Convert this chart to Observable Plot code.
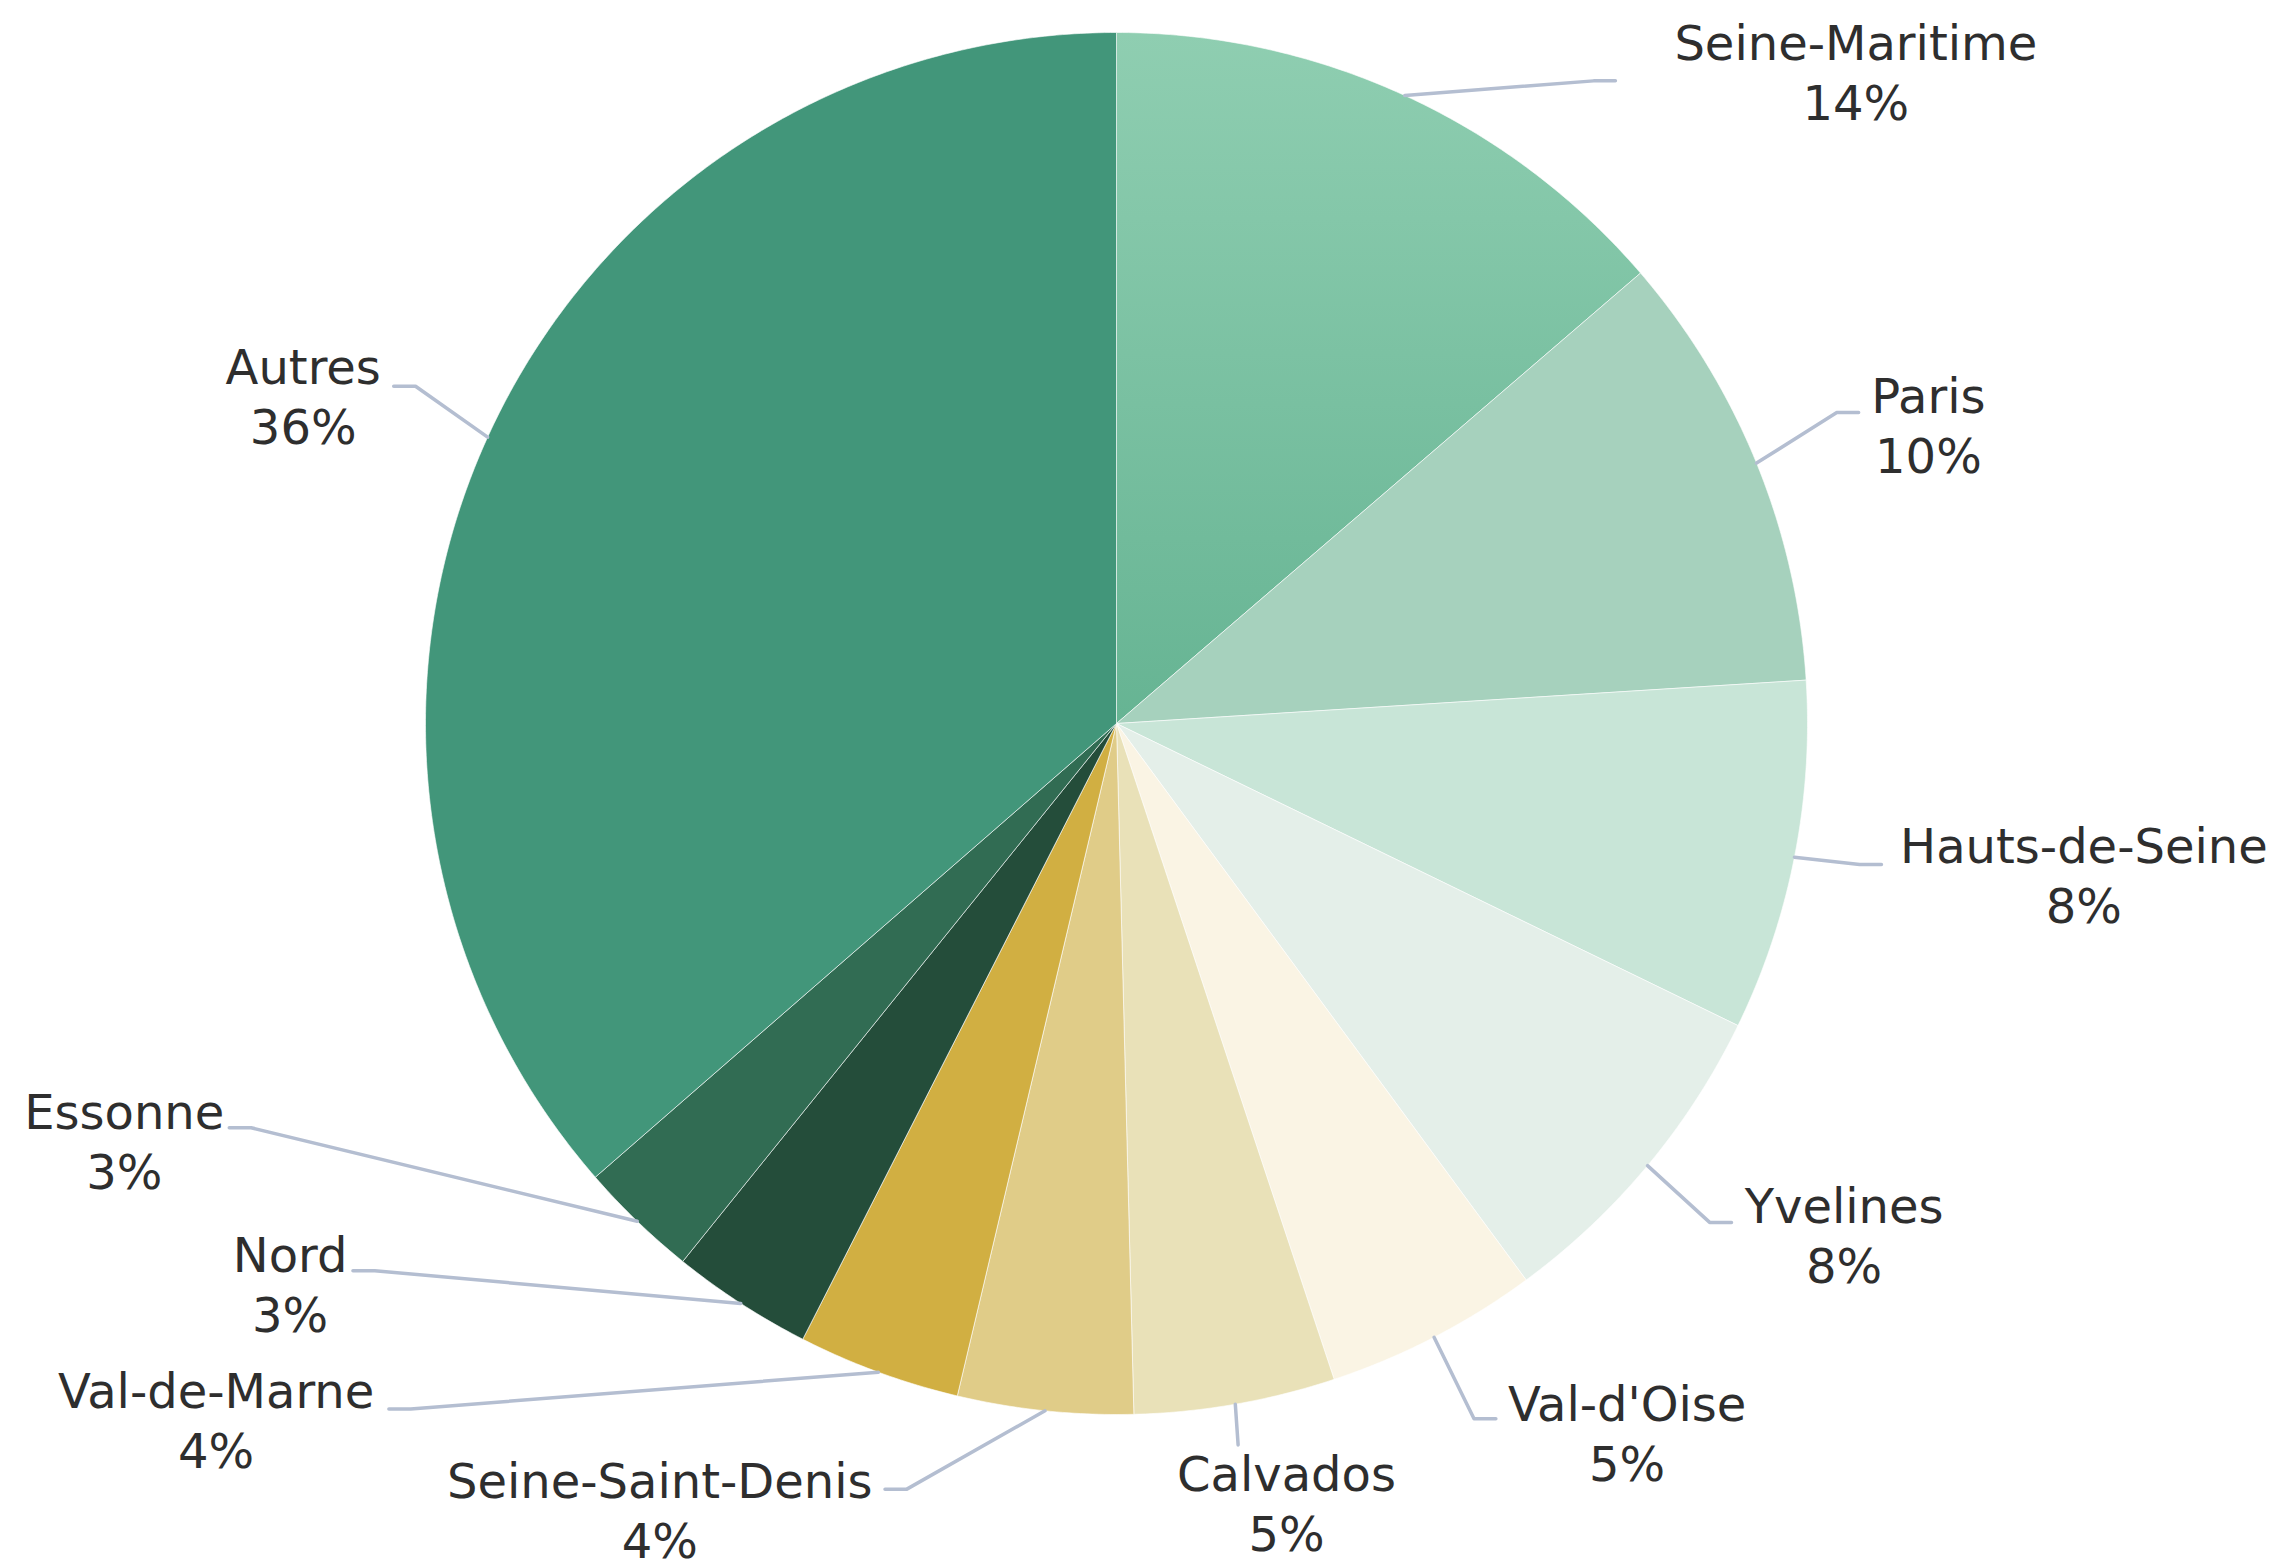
<!DOCTYPE html>
<html>
<head>
<meta charset="utf-8">
<script src="https://cdn.jsdelivr.net/npm/d3@7"></script>
<script src="https://cdn.jsdelivr.net/npm/@observablehq/plot@0.6"></script>
<style>
  html, body { margin: 0; padding: 0; background: #ffffff; overflow: hidden; }
</style>
</head>
<body>
<div id="chart"></div>
<script>
// ---- Data ----
const departements = ["Seine-Maritime", "Paris", "Hauts-de-Seine", "Yvelines", "Val-d'Oise", "Calvados",
  "Seine-Saint-Denis", "Val-de-Marne", "Nord", "Essonne", "Autres"];
const parts = [13.7, 10.3, 8.2, 7.7, 5.0, 4.7, 4.1, 3.8, 3.3, 2.8, 36.4];
const couleurs = ["url(#gradSM)", "#a6d1bd", "#c8e5d7", "#e4efe9", "#faf4e4", "#e9e1b8",
  "#e0cc88", "#d1af42", "#244d3a", "#316c53", "#42967a"];

// ---- Label layout (in pie-radius units, relative to the centre, y pointing down) ----
const labelCentre = [[1.07, -0.944], [1.175, -0.434], [1.40, 0.218], [1.053, 0.739], [0.739, 1.025], [0.246, 1.126],
  [-0.661, 1.136], [-1.303, 1.006], [-1.196, 0.810], [-1.436, 0.602], [-1.177, -0.475]];
const labelEnd = [[0.722, -0.930], [1.074, -0.450], [1.107, 0.204], [0.890, 0.722], [0.549, 1.006], [0.176, 1.044],
  [-0.335, 1.108], [-1.053, 0.992], [-1.105, 0.792], [-1.284, 0.585], [-1.046, -0.488]];

// ---- Build slices ----
const total = d3.sum(parts);
let acc = 0;
const slices = departements.map((name, i) => {
  const a0 = acc / total * 2 * Math.PI;
  acc += parts[i];
  const a1 = acc / total * 2 * Math.PI;
  return {name, value: parts[i], a0, a1, mid: (a0 + a1) / 2, color: couleurs[i], i};
});

const slicePts = slices.flatMap(s => {
  const n = Math.max(2, Math.ceil((s.a1 - s.a0) / (Math.PI / 360)));
  const pts = [{i: s.i, x: 0, y: 0, fill: s.color}];
  for (let k = 0; k <= n; k++) {
    const a = s.a0 + (s.a1 - s.a0) * k / n;
    pts.push({i: s.i, x: Math.sin(a), y: -Math.cos(a), fill: s.color});
  }
  pts.push({i: s.i, x: 0, y: 0, fill: s.color});
  return pts;
});

const connPts = slices.flatMap((s, i) => {
  const ex = Math.sin(s.mid), ey = -Math.cos(s.mid);
  const [fx, fy] = labelEnd[i];
  const pts = [{i, x: ex, y: ey}];
  if (Math.abs(fx - ex) > 0.02) {
    const side = s.mid < Math.PI ? 1 : -1;
    pts.push({i, x: fx - side * 0.0316, y: fy});
  }
  pts.push({i, x: fx, y: fy});
  return pts;
});

const W = 2282, H = 1568;
const cx = 1116, cy = 723, R = 691;

const svg = Plot.plot({
  width: W,
  height: H,
  marginLeft: cx - R,
  marginRight: W - (cx + R),
  marginTop: cy - R,
  marginBottom: H - (cy + R),
  x: {domain: [-1, 1], axis: null},
  y: {domain: [1, -1], axis: null},
  color: {type: "identity"},
  style: {fontFamily: "DejaVu Sans", background: "#ffffff"},
  marks: [
    Plot.line(slicePts, {x: "x", y: "y", z: "i", fill: "fill", stroke: "#ffffff", strokeOpacity: 0.6, strokeWidth: 1, strokeLinejoin: "round", curve: "linear"}),
    Plot.line(connPts, {x: "x", y: "y", z: "i", stroke: "#b4bed1", strokeWidth: 3.5, curve: "linear"}),
    Plot.text(slices, {
      x: (d, i) => labelCentre[i][0],
      y: (d, i) => labelCentre[i][1],
      text: d => `${d.name}\n${Math.round(d.value)}%`,
      fontSize: 48,
      lineHeight: 1.25,
      fill: "#2e2e2e",
      fontFamily: "DejaVu Sans",
      textAnchor: "middle",
      lineAnchor: "middle"
    })
  ]
});

const defs = d3.select(svg).insert("defs", ":first-child");
const grad = defs.append("linearGradient").attr("id", "gradSM")
  .attr("x1", 0).attr("y1", 0).attr("x2", 0).attr("y2", 1);
grad.append("stop").attr("offset", "0%").attr("stop-color", "#8fceb1");
grad.append("stop").attr("offset", "100%").attr("stop-color", "#66b493");

document.getElementById("chart").appendChild(svg);
</script>
</body>
</html>
